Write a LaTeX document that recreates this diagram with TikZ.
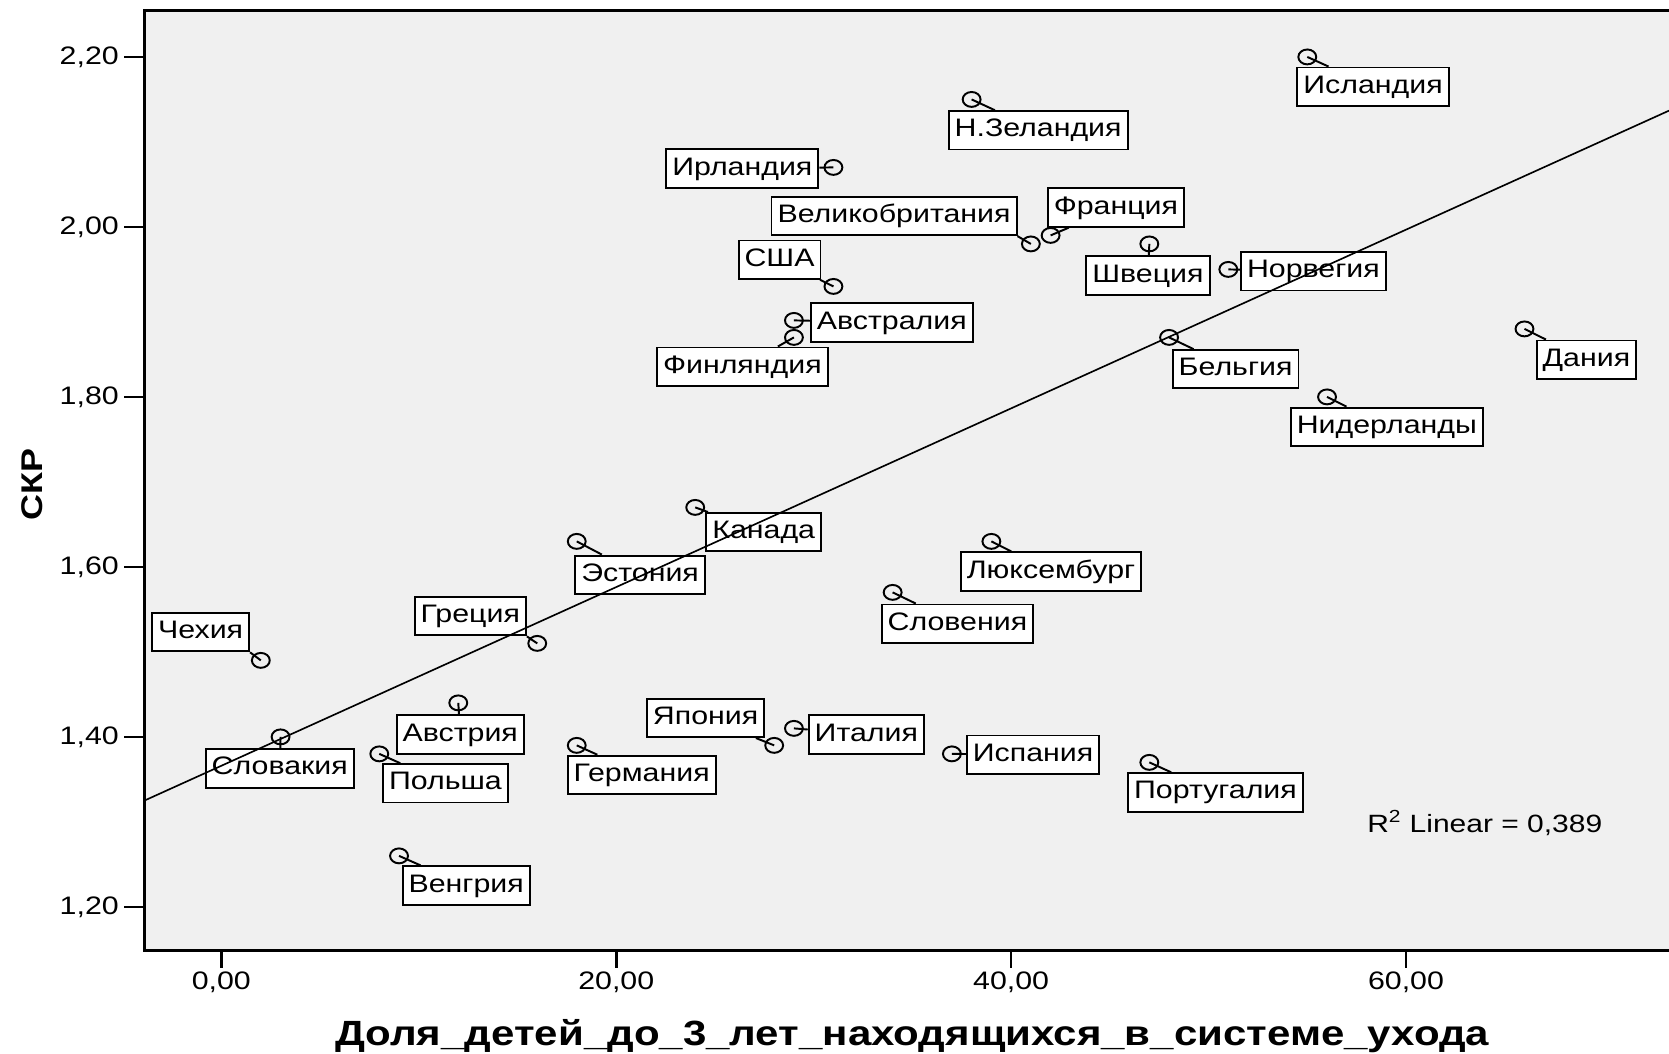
\documentclass[tikz,border=0pt]{standalone}
\usepackage{fontspec}
\setmainfont{Liberation Sans}[FakeStretch=1.2]
\usepackage{tikz}
\usetikzlibrary{positioning,shapes.geometric}
\definecolor{panelgray}{HTML}{F0F0F0}
\tikzset{
  frame/.style={line width=1.8pt,line cap=rect},
  panel/.style={fill=panelgray},
  ticklabel/.style={inner sep=0pt,font=\fontsize{16.9}{18}\selectfont},
  axistitle/.style={inner sep=0pt,font=\bfseries\fontsize{23.4}{25}\selectfont},
  country/.style={draw,fill=white,line width=1.3pt,inner xsep=4pt,inner ysep=5pt,
    text height=12.2pt,text depth=3.4pt,font=\fontsize{16.9}{18}\selectfont},
  obs/.style={ellipse,draw,line width=1.3pt,inner sep=0pt,minimum width=0.42cm,minimum height=0.35cm},
  leader/.style={line width=1.3pt},
  fitline/.style={line width=1.1pt}
}

\begin{document}
\begin{tikzpicture}[x=0.46375cm,y=19.9625cm]
  \useasboundingbox (-11.21,1.0272) rectangle (73.32,2.2670);
  % plot area
  \fill[panel] (-3.88,1.1487) rectangle (74,2.2545);
  \draw[frame] (74,2.2545) -- (-3.88,2.2545) -- (-3.88,1.1487) -- (74,1.1487);
  % y axis
  \draw[frame] (-3.88,2.2) -- (-4.85,2.2) (-3.88,2.0) -- (-4.85,2.0)
    (-3.88,1.8) -- (-4.85,1.8) (-3.88,1.6) -- (-4.85,1.6)
    (-3.88,1.4) -- (-4.85,1.4) (-3.88,1.2) -- (-4.85,1.2);
  \path[every node/.style={ticklabel,anchor=east}]
    (-5.18,2.2) node (y220) {2,20}
    (-5.18,2.0) node (y200) {2,00}
    (-5.18,1.8) node (y180) {1,80}
    (-5.18,1.6) node (y160) {1,60}
    (-5.18,1.4) node (y140) {1,40}
    (-5.18,1.2) node (y120) {1,20};
  % x axis
  \draw[frame] (0,1.1487) -- (0,1.1299) (20,1.1487) -- (20,1.1299)
    (40,1.1487) -- (40,1.1299) (60,1.1487) -- (60,1.1299);
  \path[every node/.style={ticklabel}]
    (0,1.1110) node (x0) {0,00}
    (20,1.1110) node (x20) {20,00}
    (40,1.1110) node (x40) {40,00}
    (60,1.1110) node (x60) {60,00};
  \node[axistitle] (xtitle) at (34.99,1.0480) {Доля\_детей\_до\_3\_лет\_находящихся\_в\_системе\_ухода};
  \node[axistitle,rotate=90,font=\bfseries\fontsize{20}{22}\selectfont] (ytitle) at (-9.60,1.6972) {СКР};

  % countries
  \node[obs] (isl) at (55,2.20) {};
  \node[country] (isl-l) at (58.33,2.1650) {Исландия};
  \node[obs] (nzl) at (38,2.15) {};
  \node[country] (nzl-l) at (41.37,2.1136) {Н.Зеландия};
  \node[obs] (irl) at (31,2.07) {};
  \node[country] (irl-l) at (26.39,2.0686) {Ирландия};
  \node[obs] (gbr) at (41,1.98) {};
  \node[country] (gbr-l) at (34.07,2.0128) {Великобритания};
  \node[obs] (fra) at (42,1.99) {};
  \node[country] (fra-l) at (45.31,2.0228) {Франция};
  \node[obs] (swe) at (47,1.98) {};
  \node[country] (swe-l) at (46.93,1.9427) {Швеция};
  \node[obs] (nor) at (51,1.95) {};
  \node[country] (nor-l) at (55.31,1.9477) {Норвегия};
  \node[obs] (usa) at (31,1.93) {};
  \node[country] (usa-l) at (28.27,1.9615) {США};
  \node[obs] (aus) at (29,1.89) {};
  \node[country] (aus-l) at (33.96,1.8876) {Австралия};
  \node[obs] (fin) at (29,1.87) {};
  \node[country] (fin-l) at (26.39,1.8356) {Финляндия};
  \node[obs] (bel) at (48,1.87) {};
  \node[country] (bel-l) at (51.37,1.8325) {Бельгия};
  \node[obs] (dnk) at (66,1.88) {};
  \node[country] (dnk-l) at (69.14,1.8438) {Дания};
  \node[obs] (nld) at (56,1.80) {};
  \node[country] (nld-l) at (59.03,1.7649) {Нидерланды};
  \node[obs] (can) at (24,1.67) {};
  \node[country] (can-l) at (27.47,1.6409) {Канада};
  \node[obs] (est) at (18,1.63) {};
  \node[country] (est-l) at (21.21,1.5908) {Эстония};
  \node[obs] (lux) at (39,1.63) {};
  \node[country] (lux-l) at (42.02,1.5945) {Люксембург};
  \node[obs] (svn) at (34,1.57) {};
  \node[country] (svn-l) at (37.28,1.5332) {Словения};
  \node[obs] (cze) at (2,1.49) {};
  \node[country] (cze-l) at (-1.05,1.5232) {Чехия};
  \node[obs] (grc) at (16,1.51) {};
  \node[country] (grc-l) at (12.61,1.5419) {Греция};
  \node[obs] (aut) at (12,1.44) {};
  \node[country] (aut-l) at (12.10,1.4029) {Австрия};
  \node[obs] (svk) at (3,1.40) {};
  \node[country] (svk-l) at (2.96,1.3629) {Словакия};
  \node[obs] (pol) at (8,1.38) {};
  \node[country] (pol-l) at (11.35,1.3453) {Польша};
  \node[obs] (deu) at (18,1.39) {};
  \node[country] (deu-l) at (21.29,1.3553) {Германия};
  \node[obs] (jpn) at (28,1.39) {};
  \node[country] (jpn-l) at (24.53,1.4223) {Япония};
  \node[obs] (ita) at (29,1.41) {};
  \node[country] (ita-l) at (32.67,1.4029) {Италия};
  \node[obs] (esp) at (37,1.38) {};
  \node[country] (esp-l) at (41.11,1.3791) {Испания};
  \node[obs] (prt) at (47,1.37) {};
  \node[country] (prt-l) at (50.35,1.3347) {Португалия};
  \node[obs] (hun) at (9,1.26) {};
  \node[country] (hun-l) at (12.40,1.2251) {Венгрия};

  % marker to label
  \path[leader]
    (isl.center) edge (isl-l) (nzl.center) edge (nzl-l) (irl.center) edge (irl-l)
    (gbr.center) edge (gbr-l.south east) (fra.center) edge (fra-l) (swe.center) edge (swe-l)
    (nor.center) edge (nor-l) (usa.center) edge (usa-l) (aus.center) edge (aus-l)
    (fin.center) edge (fin-l) (bel.center) edge (bel-l) (dnk.center) edge (dnk-l)
    (nld.center) edge (nld-l) (can.center) edge (can-l) (est.center) edge (est-l)
    (lux.center) edge (lux-l) (svn.center) edge (svn-l) (cze.center) edge (cze-l.south east)
    (grc.center) edge (grc-l.south east) (aut.center) edge (aut-l) (svk.center) edge (svk-l)
    (pol.center) edge (pol-l) (deu.center) edge (deu-l) (jpn.center) edge (jpn-l)
    (ita.center) edge (ita-l) (esp.center) edge (esp-l) (prt.center) edge (prt-l)
    (hun.center) edge (hun-l);

  % linear fit
  \coordinate (fitA) at (-3.88,1.3252);
  \coordinate (fitB) at (73.32,2.1368);
  \draw[fitline] (fitA) -- (fitB);
  \node[ticklabel,font=\fontsize{16.7}{18}\selectfont] (rsq) at (63.99,1.2989) {R\textsuperscript{2} Linear = 0,389};
\end{tikzpicture}
\end{document}
